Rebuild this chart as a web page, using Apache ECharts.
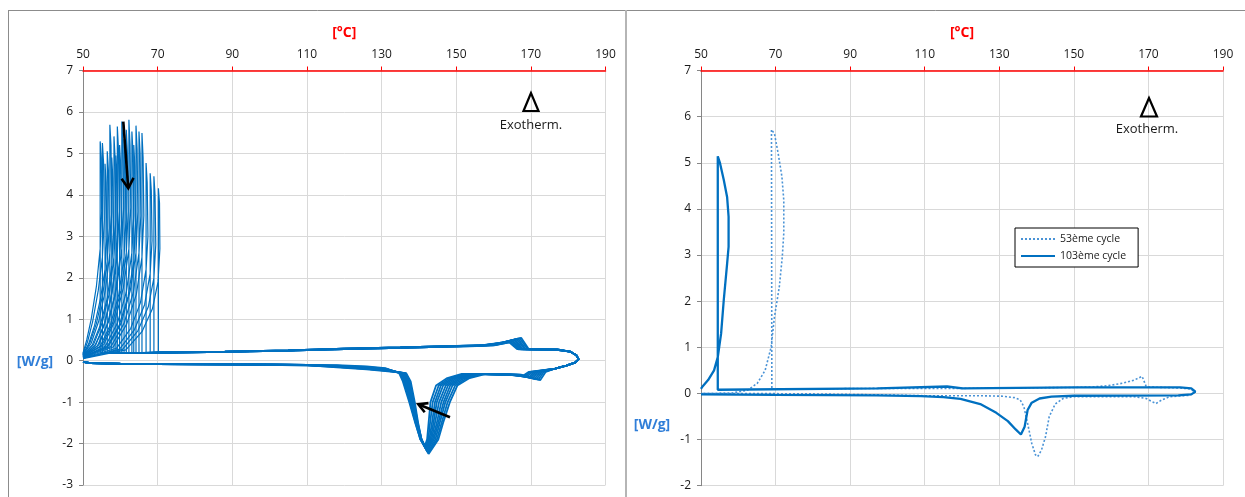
<!DOCTYPE html>
<html><head><meta charset="utf-8">
<script src="https://cdn.jsdelivr.net/npm/echarts@6/dist/echarts.min.js"></script>
<style>html,body{margin:0;padding:0;background:#fff;}#c{width:1245px;height:497px;}</style>
</head><body><div id="c"></div>
<script>
// ---------- DATA ----------
const tempRange = [50, 190];          // [°C], tick every 20
const leftWRange = [-3, 7];           // [W/g]
const rightWRange = [-2, 7];
const legendNames = ['53ème cycle', '103ème cycle'];

// Left chart: heating/cooling loop of successive cycles (melting band)
const leftLoops = [
 [[50,-0.03],[52,-0.06],[60,-0.07],[80,-0.08],[100,-0.09],[110,-0.11],[118,-0.16],[126,-0.21],[131,-0.25],[136.6,-0.3],[137.8,-0.5],[138.9,-1.0],[139.8,-1.5],[140.7,-1.9],[141.6,-2.06],[142.2,-1.9],[142.6,-1.5],[143.1,-1.0],[144.6,-0.6],[147.6,-0.42],[151.5,-0.32],[167.5,-0.34],[172.5,-0.47],[174.0,-0.27],[176.5,-0.19],[179.5,-0.12],[181.8,-0.05],[182.8,0.03],[182.2,0.13],[180.5,0.22],[177,0.26],[169.5,0.27],[167.4,0.55],[167.0,0.54],[163.0,0.45],[158.0,0.37],[148,0.34],[135,0.31],[120,0.28],[105,0.24],[88,0.21],[70,0.19]],
 [[50,-0.03],[52,-0.06],[60,-0.08],[80,-0.09],[100,-0.1],[110,-0.12],[118,-0.15],[126,-0.2],[131,-0.24],[136.4,-0.3],[137.6,-0.5],[138.7,-1.0],[139.7,-1.5],[140.7,-1.9],[141.7,-2.08],[142.5,-1.9],[143.0,-1.5],[143.7,-1.0],[145.3,-0.6],[148.3,-0.42],[152.2,-0.32],[167.0,-0.34],[172.0,-0.46],[173.5,-0.27],[176.5,-0.19],[179.5,-0.12],[181.8,-0.05],[182.8,0.03],[182.2,0.13],[180.5,0.22],[177,0.27],[169.1,0.28],[167.0,0.54],[166.6,0.53],[162.6,0.44],[157.6,0.38],[148,0.35],[135,0.32],[120,0.29],[105,0.25],[88,0.22],[70,0.2]],
 [[50,-0.03],[52,-0.06],[60,-0.07],[80,-0.08],[100,-0.09],[110,-0.1],[118,-0.15],[126,-0.2],[131,-0.24],[136.2,-0.3],[137.3,-0.5],[138.6,-1.0],[139.6,-1.5],[140.7,-1.9],[141.8,-2.1],[142.8,-1.9],[143.5,-1.5],[144.3,-1.0],[145.9,-0.6],[149.0,-0.42],[152.9,-0.32],[166.5,-0.34],[171.5,-0.45],[173.0,-0.27],[176.5,-0.19],[179.5,-0.12],[181.8,-0.05],[182.8,0.03],[182.2,0.13],[180.5,0.22],[177,0.26],[168.7,0.27],[166.6,0.53],[166.2,0.52],[162.2,0.43],[157.2,0.37],[148,0.34],[135,0.31],[120,0.28],[105,0.24],[88,0.21],[70,0.19]],
 [[50,-0.03],[52,-0.06],[60,-0.08],[80,-0.09],[100,-0.1],[110,-0.11],[118,-0.14],[126,-0.19],[131,-0.23],[136.0,-0.3],[137.1,-0.5],[138.4,-1.0],[139.5,-1.5],[140.7,-1.9],[141.9,-2.12],[143.1,-1.9],[143.9,-1.5],[144.8,-1.0],[146.5,-0.6],[149.6,-0.42],[153.6,-0.32],[166.0,-0.34],[171.0,-0.44],[172.5,-0.27],[176.5,-0.19],[179.5,-0.12],[181.8,-0.05],[182.8,0.03],[182.2,0.13],[180.5,0.22],[177,0.27],[168.3,0.28],[166.2,0.52],[165.8,0.51],[161.8,0.42],[156.8,0.37],[148,0.35],[135,0.32],[120,0.29],[105,0.25],[88,0.22],[70,0.2]],
 [[50,-0.03],[52,-0.06],[60,-0.07],[80,-0.08],[100,-0.09],[110,-0.1],[118,-0.14],[126,-0.18],[131,-0.22],[135.8,-0.3],[136.9,-0.5],[138.2,-1.0],[139.4,-1.5],[140.6,-1.9],[142.0,-2.14],[143.4,-1.9],[144.3,-1.5],[145.4,-1.0],[147.2,-0.6],[150.2,-0.42],[154.3,-0.32],[165.5,-0.34],[170.5,-0.42],[172.0,-0.27],[176.5,-0.19],[179.5,-0.12],[181.8,-0.05],[182.8,0.03],[182.2,0.13],[180.5,0.22],[177,0.26],[167.9,0.27],[165.8,0.51],[165.4,0.5],[161.4,0.41],[156.4,0.36],[148,0.34],[135,0.31],[120,0.28],[105,0.24],[88,0.21],[70,0.19]],
 [[50,-0.03],[52,-0.06],[60,-0.08],[80,-0.09],[100,-0.1],[110,-0.11],[118,-0.13],[126,-0.17],[131,-0.21],[135.6,-0.3],[136.6,-0.5],[138.1,-1.0],[139.4,-1.5],[140.6,-1.9],[142.1,-2.16],[143.7,-1.9],[144.8,-1.5],[146.0,-1.0],[147.8,-0.6],[150.9,-0.42],[155.0,-0.32],[165.0,-0.34],[170.0,-0.41],[171.5,-0.27],[176.5,-0.19],[179.5,-0.12],[181.8,-0.05],[182.8,0.03],[182.2,0.13],[180.5,0.22],[177,0.27],[167.6,0.28],[165.5,0.5],[165.1,0.49],[161.1,0.4],[156.1,0.37],[148,0.35],[135,0.32],[120,0.29],[105,0.25],[88,0.22],[70,0.2]],
 [[50,-0.03],[52,-0.06],[60,-0.07],[80,-0.08],[100,-0.09],[110,-0.1],[118,-0.13],[126,-0.17],[131,-0.2],[135.4,-0.3],[136.4,-0.5],[137.9,-1.0],[139.3,-1.5],[140.5,-1.9],[142.2,-2.18],[144.0,-1.9],[145.2,-1.5],[146.6,-1.0],[148.4,-0.6],[151.5,-0.42],[155.7,-0.32],[164.5,-0.34],[169.5,-0.4],[171.0,-0.27],[176.5,-0.19],[179.5,-0.12],[181.8,-0.05],[182.8,0.03],[182.2,0.13],[180.5,0.22],[177,0.26],[167.3,0.27],[165.2,0.48],[164.8,0.47],[160.8,0.39],[155.8,0.35],[148,0.34],[135,0.31],[120,0.28],[105,0.24],[88,0.21],[70,0.19]],
 [[50,-0.03],[52,-0.06],[60,-0.08],[80,-0.09],[100,-0.1],[110,-0.11],[118,-0.12],[126,-0.16],[131,-0.2],[135.2,-0.3],[136.2,-0.5],[137.8,-1.0],[139.2,-1.5],[140.5,-1.9],[142.4,-2.2],[144.4,-1.9],[145.6,-1.5],[147.1,-1.0],[149.0,-0.6],[152.2,-0.42],[156.4,-0.32],[164.0,-0.34],[169.0,-0.38],[170.5,-0.27],[176.5,-0.19],[179.5,-0.12],[181.8,-0.05],[182.8,0.03],[182.2,0.13],[180.5,0.22],[177,0.27],[167.0,0.28],[164.9,0.47],[164.5,0.46],[160.5,0.38],[155.5,0.36],[148,0.35],[135,0.32],[120,0.29],[105,0.25],[88,0.22],[70,0.2]],
 [[50,-0.03],[52,-0.06],[60,-0.07],[80,-0.08],[100,-0.09],[110,-0.1],[118,-0.12],[126,-0.15],[131,-0.19],[135.0,-0.3],[135.9,-0.5],[137.6,-1.0],[139.1,-1.5],[140.4,-1.9],[142.5,-2.23],[144.8,-1.9],[146.1,-1.5],[147.7,-1.0],[149.7,-0.6],[152.9,-0.42],[157.2,-0.32],[163.5,-0.33],[168.5,-0.37],[170.0,-0.27],[176.5,-0.19],[179.5,-0.12],[181.8,-0.05],[182.8,0.03],[182.2,0.13],[180.5,0.22],[177,0.26],[166.7,0.27],[164.6,0.45],[164.2,0.44],[160.2,0.37],[155.2,0.35],[148,0.34],[135,0.31],[120,0.28],[105,0.24],[88,0.21],[70,0.19]],
 [[50,-0.03],[52,-0.06],[60,-0.08],[80,-0.09],[100,-0.1],[110,-0.11],[118,-0.11],[126,-0.14],[131,-0.18],[134.7,-0.3],[135.7,-0.5],[137.4,-1.0],[139.0,-1.5],[140.4,-1.9],[142.6,-2.25],[145.2,-1.9],[146.5,-1.5],[148.3,-1.0],[150.3,-0.6],[153.6,-0.42],[158.0,-0.32],[163.0,-0.33],[168.0,-0.36],[169.5,-0.27],[176.5,-0.19],[179.5,-0.12],[181.8,-0.05],[182.8,0.03],[182.2,0.13],[180.5,0.22],[177,0.27],[166.3,0.28],[164.2,0.44],[163.8,0.43],[159.8,0.37],[154.8,0.36],[148,0.35],[135,0.32],[120,0.29],[105,0.25],[88,0.22],[70,0.2]]
];

// Left chart: crystallisation peaks of successive cycles (cooling end)
const leftPeaks = [
 [[70,0.19],[54.6,0.18],[54.6,5.29],[54.9,4.9],[55.0,3.6],[54.6,2.7],[53.6,1.8],[52.2,1.0],[51.0,0.5],[50,0.18]],
 [[70,0.19],[55.2,0.18],[55.2,5.25],[55.5,4.8],[55.7,3.4],[55.2,2.5],[54.1,1.7],[52.6,0.95],[51.2,0.45],[50,0.16]],
 [[70,0.19],[55.9,0.18],[55.9,4.75],[56.2,4.3],[56.4,3.0],[55.9,2.2],[54.7,1.5],[53.1,0.85],[51.5,0.4],[50,0.15]],
 [[70,0.2],[56.5,0.18],[56.5,5.05],[56.8,4.6],[57.0,3.2],[56.5,2.4],[55.3,1.6],[53.6,0.9],[51.8,0.42],[50,0.15]],
 [[70,0.2],[57.2,0.18],[57.2,5.69],[57.5,5.2],[57.7,3.6],[57.2,2.6],[56.0,1.7],[54.2,0.95],[52.2,0.42],[50,0.14]],
 [[70,0.19],[57.7,0.18],[57.7,4.9],[58.0,4.4],[58.2,3.1],[57.7,2.3],[56.5,1.5],[54.6,0.85],[52.5,0.38],[50,0.13]],
 [[70,0.2],[58.3,0.18],[58.3,5.41],[58.6,4.9],[58.8,3.4],[58.3,2.5],[57.0,1.6],[55.1,0.9],[52.8,0.38],[50,0.13]],
 [[70,0.19],[58.8,0.18],[58.8,4.95],[59.1,4.5],[59.3,3.1],[58.8,2.3],[57.5,1.5],[55.5,0.82],[53.1,0.35],[50,0.12]],
 [[70,0.2],[59.2,0.18],[59.2,5.65],[59.5,5.1],[59.7,3.6],[59.2,2.6],[57.9,1.7],[55.9,0.92],[53.4,0.38],[50,0.12]],
 [[70,0.19],[59.8,0.18],[59.8,5.2],[60.1,4.7],[60.3,3.3],[59.8,2.4],[58.5,1.55],[56.4,0.85],[53.8,0.35],[50,0.11]],
 [[70,0.2],[60.4,0.18],[60.4,5.77],[60.7,5.2],[60.9,3.7],[60.4,2.7],[59.0,1.75],[56.9,0.95],[54.2,0.38],[50,0.11]],
 [[70,0.19],[61.0,0.18],[61.0,5.35],[61.3,4.8],[61.5,3.4],[61.0,2.5],[59.6,1.6],[57.4,0.88],[54.6,0.35],[50,0.1]],
 [[70,0.2],[61.6,0.18],[61.6,5.57],[61.9,5.0],[62.1,3.6],[61.6,2.6],[60.2,1.7],[57.9,0.9],[55.0,0.36],[50,0.1]],
 [[70,0.2],[62.3,0.18],[62.3,5.81],[62.6,5.2],[62.8,3.7],[62.3,2.7],[60.8,1.75],[58.5,0.95],[55.5,0.38],[50,0.1]],
 [[70,0.19],[63.1,0.18],[63.1,5.53],[63.4,5.0],[63.6,3.5],[63.1,2.6],[61.6,1.65],[59.2,0.9],[56.0,0.35],[50,0.09]],
 [[70,0.19],[63.6,0.18],[63.6,5.2],[63.9,4.7],[64.1,3.3],[63.6,2.4],[62.1,1.55],[59.7,0.85],[56.4,0.33],[50,0.09]],
 [[70,0.2],[64.2,0.18],[64.2,5.67],[64.5,5.1],[64.7,3.6],[64.2,2.6],[62.7,1.7],[60.2,0.9],[56.8,0.35],[50,0.08]],
 [[70,0.2],[65.0,0.18],[65.0,5.53],[65.3,5.0],[65.5,3.5],[65.0,2.6],[63.5,1.65],[61.0,0.9],[57.5,0.34],[50,0.08]],
 [[70,0.19],[65.8,0.18],[65.8,5.49],[66.1,4.9],[66.3,3.5],[65.8,2.5],[64.3,1.6],[61.7,0.88],[58.1,0.33],[50,0.07]],
 [[70,0.19],[66.9,0.18],[66.9,4.77],[67.2,4.3],[67.4,3.0],[66.9,2.2],[65.4,1.4],[62.8,0.78],[59.0,0.3],[50,0.07]],
 [[70,0.19],[68.0,0.18],[68.0,4.52],[68.3,4.1],[68.5,2.9],[68.0,2.1],[66.5,1.35],[63.8,0.75],[59.8,0.28],[50,0.06]],
 [[70,0.2],[69.0,0.18],[69.0,4.45],[69.3,4.0],[69.5,2.8],[69.0,2.0],[67.5,1.3],[64.7,0.72],[60.6,0.27],[50,0.06]],
 [[72,0.2],[70.2,0.18],[70.2,4.16],[70.5,3.8],[70.6,2.7],[70.1,1.9],[68.6,1.25],[65.8,0.7],[61.5,0.26],[50,0.05]]
];

// Right chart: 53rd cycle (dotted) and 103rd cycle (solid)
const cycle53 = [[50,0.0],[60,0.0],[80,-0.01],[97,-0.03],[110,-0.05],[125,-0.05],[131,-0.06],[134,-0.09],[135.6,-0.14],[136.6,-0.29],[137.6,-0.65],[138.7,-1.08],[139.7,-1.33],[140.3,-1.37],[141.3,-1.23],[142.4,-0.94],[143.4,-0.5],[145,-0.23],[147.1,-0.11],[150,-0.07],[166.2,-0.07],[169.4,-0.11],[172,-0.22],[173.6,-0.14],[175.7,-0.07],[181,-0.04],[182.6,0.03],[181,0.1],[178,0.12],[170,0.14],[169.4,0.15],[168.3,0.37],[166.2,0.29],[163,0.22],[159.3,0.17],[155,0.14],[150,0.13],[120,0.11],[97,0.11],[72,0.09],[69,0.09],[68.9,5.72],[69.7,5.63],[70.7,5.2],[71.7,4.7],[72.2,4.19],[72.2,3.47],[71.8,2.96],[71,2.31],[69.7,1.66],[68.8,1.0],[67.2,0.5],[65.1,0.22],[62.5,0.07],[58.3,0.01],[50,0.0]];
const cycle103 = [[50,-0.02],[70,-0.03],[97,-0.04],[109,-0.06],[115,-0.08],[119.6,-0.12],[124.9,-0.23],[129.2,-0.42],[132.3,-0.6],[134.4,-0.78],[135.8,-0.89],[136.3,-0.85],[136.8,-0.72],[137.6,-0.36],[138.7,-0.2],[140.8,-0.11],[144,-0.07],[150,-0.05],[178,-0.04],[181.5,-0.02],[182.6,0.04],[181.5,0.11],[178.5,0.13],[150,0.13],[149.7,0.11],[120.2,0.11],[119.8,0.15],[116,0.15],[115.5,0.11],[97.4,0.11],[97,0.08],[54.5,0.08],[54.5,5.14],[55.1,4.99],[56.1,4.63],[57,4.26],[57.4,3.83],[57.4,3.18],[57,2.81],[56.1,2.02],[55.4,1.3],[54.5,0.79],[53.5,0.5],[51.9,0.29],[50.3,0.14],[50,0.1]];

// ---------- CHART ----------
const F = "'Open Sans', 'Liberation Sans', sans-serif";
const BLUE = '#0070C0';
const chart = echarts.init(document.getElementById('c'), null, {renderer: 'canvas'});

function xAx(gi) {
  return {gridIndex: gi, type: 'value', position: 'top', min: tempRange[0], max: tempRange[1], interval: 20,
    name: '[°C]', nameLocation: 'middle', nameGap: 30,
    nameTextStyle: {color: '#ff0000', fontWeight: 'bold', fontSize: 14, fontFamily: F},
    axisLine: {show: true, onZero: false, lineStyle: {color: '#ff0000', width: 1.5}},
    axisTick: {show: true, length: 4, lineStyle: {color: '#ff0000'}},
    axisLabel: {color: '#1a1a1a', fontSize: 12, fontFamily: F, margin: 10},
    splitLine: {show: true, lineStyle: {color: '#d9d9d9', width: 1}}};
}
function yAx(gi, r) {
  return {gridIndex: gi, type: 'value', min: r[0], max: r[1], interval: 1,
    axisLine: {show: true, onZero: false, lineStyle: {color: '#868686', width: 1}},
    axisTick: {show: true, length: 4, lineStyle: {color: '#868686'}},
    axisLabel: {color: '#1a1a1a', fontSize: 12, fontFamily: F, margin: 10},
    splitLine: {show: true, lineStyle: {color: '#d9d9d9', width: 1}}};
}

const series = [];
leftLoops.forEach(d => series.push({type: 'line', xAxisIndex: 0, yAxisIndex: 0, data: d, symbol: 'none', silent: true,
  lineStyle: {color: BLUE, width: 1.8}, z: 2}));
leftPeaks.forEach(d => series.push({type: 'line', xAxisIndex: 0, yAxisIndex: 0, data: d, symbol: 'none', silent: true,
  lineStyle: {color: BLUE, width: 1.2}, z: 2}));
series.push({name: legendNames[0], type: 'line', xAxisIndex: 1, yAxisIndex: 1, data: cycle53, symbol: 'none', silent: true,
  itemStyle: {color: '#4a93d6'}, lineStyle: {color: '#4a93d6', width: 1.6, type: [2, 2]}, z: 2});
series.push({name: legendNames[1], type: 'line', xAxisIndex: 1, yAxisIndex: 1, data: cycle103, symbol: 'none', silent: true,
  itemStyle: {color: BLUE}, lineStyle: {color: BLUE, width: 2.3}, z: 3});

const txt = (x, y, s, style) => ({type: 'text', x: x, y: y, z: 100,
  style: Object.assign({text: s, fontFamily: F, textAlign: 'center', textVerticalAlign: 'middle'}, style)});

chart.setOption({
  animation: false,
  backgroundColor: '#ffffff',
  grid: [
    {left: 83, top: 70.5, width: 522.5, height: 414.5},
    {left: 701, top: 70.5, width: 522, height: 415.2}
  ],
  xAxis: [xAx(0), xAx(1)],
  yAxis: [yAx(0, leftWRange), yAx(1, rightWRange)],
  legend: {data: legendNames, left: 1015, top: 228, orient: 'vertical', itemWidth: 34, itemHeight: 10, itemGap: 3,
    padding: [4, 12, 4, 5], borderColor: '#000', borderWidth: 1, backgroundColor: '#fff',
    itemStyle: {opacity: 0},
    textStyle: {fontSize: 10.5, fontFamily: F, color: '#1a1a1a', lineHeight: 14}},
  series: series,
  graphic: [
    {type: 'line', z: 100, shape: {x1: 8, y1: 10.5, x2: 1245, y2: 10.5}, style: {stroke: '#8c8c8c', lineWidth: 1}},
    {type: 'line', z: 100, shape: {x1: 8.5, y1: 10, x2: 8.5, y2: 497}, style: {stroke: '#8c8c8c', lineWidth: 1}},
    {type: 'line', z: 100, shape: {x1: 626, y1: 10, x2: 626, y2: 497}, style: {stroke: '#b5b5b5', lineWidth: 2}},
    txt(35, 362, '[W/g]', {fill: '#2f7ed8', fontSize: 14, fontWeight: 'bold'}),
    txt(652, 425, '[W/g]', {fill: '#2f7ed8', fontSize: 14, fontWeight: 'bold'}),
    txt(531, 125, 'Exotherm.', {fill: '#1a1a1a', fontSize: 13}),
    txt(1147, 129.5, 'Exotherm.', {fill: '#1a1a1a', fontSize: 13}),
    {type: 'polygon', z: 100, shape: {points: [[531, 93], [523.5, 111], [538.5, 111]]}, style: {fill: 'none', stroke: '#000', lineWidth: 2.2}},
    {type: 'polygon', z: 100, shape: {points: [[1149, 98], [1141, 116.5], [1157, 116.5]]}, style: {fill: 'none', stroke: '#000', lineWidth: 2.2}},
    {type: 'line', z: 100, shape: {x1: 123.3, y1: 121.7, x2: 128.2, y2: 187}, style: {stroke: '#000', lineWidth: 2.6}},
    {type: 'polyline', z: 100, shape: {points: [[121.6, 178.8], [128.3, 188.3], [133.5, 177.9]]}, style: {stroke: '#000', lineWidth: 2.6, fill: 'none'}},
    {type: 'line', z: 100, shape: {x1: 450, y1: 417.3, x2: 419.5, y2: 404.8}, style: {stroke: '#000', lineWidth: 2.6}},
    {type: 'polyline', z: 100, shape: {points: [[428.5, 403.1], [418.3, 404.3], [424.7, 412.3]]}, style: {stroke: '#000', lineWidth: 2.6, fill: 'none'}}
  ]
});
</script></body></html>
